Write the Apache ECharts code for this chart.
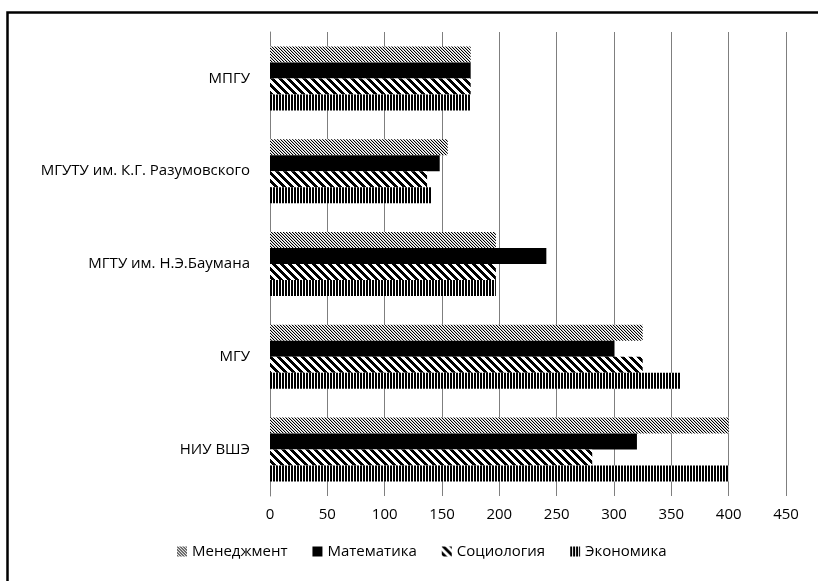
<!DOCTYPE html>
<html>
<head>
<meta charset="utf-8">
<script src="https://cdn.jsdelivr.net/npm/echarts@6/dist/echarts.min.js"></script>
<style>
html,body{margin:0;padding:0;background:#fff;}
#chart{width:818px;height:581px;}
</style>
</head>
<body>
<div id="chart"></div>
<script>
// ---- data ----
const categories = ['МПГУ', 'МГУТУ им. К.Г. Разумовского', 'МГТУ им. Н.Э.Баумана', 'МГУ', 'НИУ ВШЭ'];
const seriesNames = ['Менеджмент', 'Математика', 'Социология', 'Экономика'];
const management = [175, 155, 197, 325, 400];
const mathematics = [175, 148, 241, 300, 320];
const sociology = [175, 137, 197, 325, 281];
const economics = [175, 141, 197, 358, 400];
const xTicks = [0, 50, 100, 150, 200, 250, 300, 350, 400, 450];

// ---- patterns ----
function makeTile(w, h, fn) {
  const c = document.createElement('canvas');
  c.width = w; c.height = h;
  const ctx = c.getContext('2d');
  ctx.fillStyle = '#fff';
  ctx.fillRect(0, 0, w, h);
  for (let y = 0; y < h; y++) {
    for (let x = 0; x < w; x++) {
      const col = fn(x, y);
      if (col) { ctx.fillStyle = col; ctx.fillRect(x, y, 1, 1); }
    }
  }
  return c;
}
const fineDiag = makeTile(3, 3, (x, y) => {
  const m = ((x - y) % 3 + 3) % 3;
  return m === 0 ? '#000' : (m === 1 ? '#c4c4c4' : null);
});
const wideDiag = makeTile(8, 8, (x, y) => {
  const m = ((x - y) % 8 + 8) % 8;
  return m < 4 ? '#000' : null;
});
const vert = makeTile(3, 1, (x) => (x < 2 ? '#000' : null));

const fills = [
  { image: fineDiag, repeat: 'repeat' },
  '#000000',
  { image: wideDiag, repeat: 'repeat' },
  { image: vert, repeat: 'repeat' }
];
const values = [management, mathematics, sociology, economics];

const font = '"Open Sans", Lato, sans-serif';

const chart = echarts.init(document.getElementById('chart'), null, { renderer: 'canvas' });
chart.setOption({
  animation: false,
  backgroundColor: '#fff',
  graphic: [{
    type: 'rect',
    left: 5, top: 10,
    shape: { x: 0, y: 0, width: 900, height: 700 },
    style: { fill: 'none', stroke: '#000', lineWidth: 2.5 },
    z: 100
  }],
  grid: { left: 270, right: 32, top: 32, bottom: 85, containLabel: false },
  legend: {
    data: seriesNames,
    left: 172,
    top: 539,
    itemWidth: 10,
    itemHeight: 10,
    itemGap: 25,
    icon: 'rect',
    textStyle: { fontFamily: font, fontSize: 15, color: '#000' }
  },
  xAxis: {
    type: 'value',
    min: 0, max: 450, interval: 50,
    axisLine: { show: false },
    axisTick: { show: false },
    axisLabel: { fontFamily: font, fontSize: 15, color: '#000', margin: 11 },
    splitLine: { show: true, lineStyle: { color: '#7f7f7f', width: 1 } }
  },
  yAxis: {
    type: 'category',
    inverse: true,
    data: categories,
    axisLine: { show: true, lineStyle: { color: '#7f7f7f', width: 1 } },
    axisTick: { show: false },
    axisLabel: { fontFamily: font, fontSize: 15, color: '#000', margin: 20 }
  },
  series: seriesNames.map((name, i) => ({
    name: name,
    type: 'bar',
    data: values[i],
    barGap: '0%',
    barCategoryGap: '31%',
    itemStyle: { color: fills[i] }
  }))
});
</script>
</body>
</html>
